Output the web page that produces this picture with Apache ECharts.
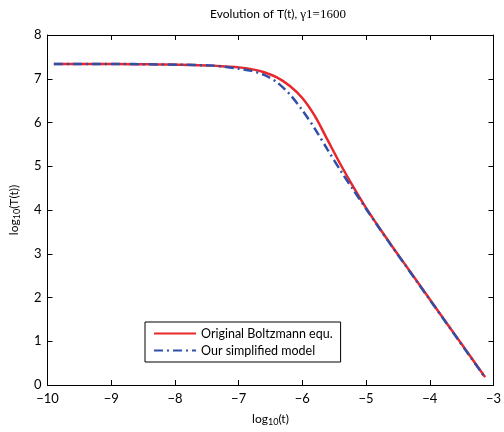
<!DOCTYPE html>
<html>
<head>
<meta charset="utf-8">
<script src="https://cdn.jsdelivr.net/npm/echarts@6/dist/echarts.min.js"></script>
<style>
  html, body { margin: 0; padding: 0; background: #fff; }
  #chart { width: 504px; height: 432px; }
</style>
</head>
<body>
<div id="chart"></div>
<script>
// log10(t) sample points
var logT = [-9.9, -9.4, -8.9, -8.4, -7.9, -7.4, -7.2, -7.0, -6.8, -6.6, -6.4, -6.2, -6.0,
            -5.8, -5.6, -5.4, -5.2, -5.0, -4.8, -4.6, -4.4, -4.2, -4.0, -3.8, -3.6, -3.4, -3.2, -3.13];
// log10(T(t))
var boltzmann = [7.34, 7.34, 7.34, 7.33, 7.32, 7.30, 7.28, 7.26, 7.22, 7.15, 7.03, 6.84, 6.56,
                 6.14, 5.59, 5.04, 4.53, 4.05, 3.61, 3.19, 2.78, 2.37, 1.96, 1.55, 1.14, 0.73, 0.32, 0.18];
var simplified = [7.34, 7.34, 7.34, 7.33, 7.32, 7.30, 7.27, 7.23, 7.18, 7.09, 6.92, 6.65, 6.28,
                  5.85, 5.37, 4.90, 4.46, 4.03, 3.60, 3.18, 2.77, 2.36, 1.95, 1.54, 1.13, 0.72, 0.31, 0.16];
var xTicks = [-10, -9, -8, -7, -6, -5, -4, -3];
var yTicks = [0, 1, 2, 3, 4, 5, 6, 7, 8];

function pairs(xs, ys) {
  return xs.map(function (x, i) { return [x, ys[i]]; });
}
function minus(v) { return String(v).replace('-', '\u2212'); }

var font = 'Lato, "Open Sans", sans-serif';
var chart = echarts.init(document.getElementById('chart'));

var frame = {
  axisLine: { show: true, onZero: false, lineStyle: { color: '#000', width: 1 } },
  axisTick: { show: true, inside: true, length: 5, lineStyle: { color: '#000' } },
  splitLine: { show: false }
};

chart.setOption({
  backgroundColor: '#fff',
  animation: false,
  title: {
    text: '{a|Evolution of T(t), }{b|\u03b31=1600}',
    left: 273, top: 3, textAlign: 'center',
    textStyle: {
      fontWeight: 'normal',
      rich: {
        a: { fontFamily: font, fontSize: 12, fontWeight: 'normal', color: '#000' },
        b: { fontFamily: '"Liberation Serif", serif', fontSize: 13, fontWeight: 'normal', color: '#000' }
      }
    }
  },
  grid: { left: 47, right: 9, top: 35, bottom: 42 },
  xAxis: [
    Object.assign({
      type: 'value', min: -10, max: -3, interval: 1,
      name: '{a|log}{s|10}{a|(t)}', nameLocation: 'middle', nameGap: 27,
      nameTextStyle: { rich: {
        a: { fontFamily: font, fontSize: 12, color: '#000' },
        s: { fontFamily: font, fontSize: 9, color: '#000', padding: [6, 0, 0, 0] }
      } },
      axisLabel: { fontFamily: font, fontSize: 13, color: '#000', margin: 7, formatter: minus }
    }, frame),
    Object.assign({
      type: 'value', min: -10, max: -3, interval: 1, position: 'top',
      axisLabel: { show: false }
    }, frame)
  ],
  yAxis: [
    Object.assign({
      type: 'value', min: 0, max: 8, interval: 1,
      name: '{a|log}{s|10}{a|(T(t))}', nameLocation: 'middle', nameGap: 26, nameRotate: 90,
      nameTextStyle: { rich: {
        a: { fontFamily: font, fontSize: 12, color: '#000' },
        s: { fontFamily: font, fontSize: 9, color: '#000', padding: [6, 0, 0, 0] }
      } },
      axisLabel: { fontFamily: font, fontSize: 13, color: '#000', margin: 6 }
    }, frame),
    Object.assign({
      type: 'value', min: 0, max: 8, interval: 1, position: 'right',
      axisLabel: { show: false }
    }, frame)
  ],
  legend: {
    orient: 'vertical', left: 145, top: 322,
    backgroundColor: '#fff', borderColor: '#000', borderWidth: 1, borderRadius: 0,
    padding: [5, 8, 5, 8], itemGap: 4, itemWidth: 42, itemHeight: 14,
    itemStyle: { opacity: 0, borderWidth: 0 },
    textStyle: { fontFamily: font, fontSize: 12.5, color: '#000' },
    data: ['Original Boltzmann equ.', 'Our simplified model']
  },
  series: [
    {
      name: 'Original Boltzmann equ.', type: 'line',
      data: pairs(logT, boltzmann), smooth: 0.3, symbol: 'none', z: 3,
      lineStyle: { color: '#e8282c', width: 2.5 }, itemStyle: { color: '#e8282c' }
    },
    {
      name: 'Our simplified model', type: 'line',
      data: pairs(logT, simplified), smooth: 0.3, symbol: 'none', z: 4,
      lineStyle: { color: '#2f4fa8', width: 2.5, type: [9, 4, 2, 4] }, itemStyle: { color: '#2f4fa8' }
    }
  ]
});
</script>
</body>
</html>
